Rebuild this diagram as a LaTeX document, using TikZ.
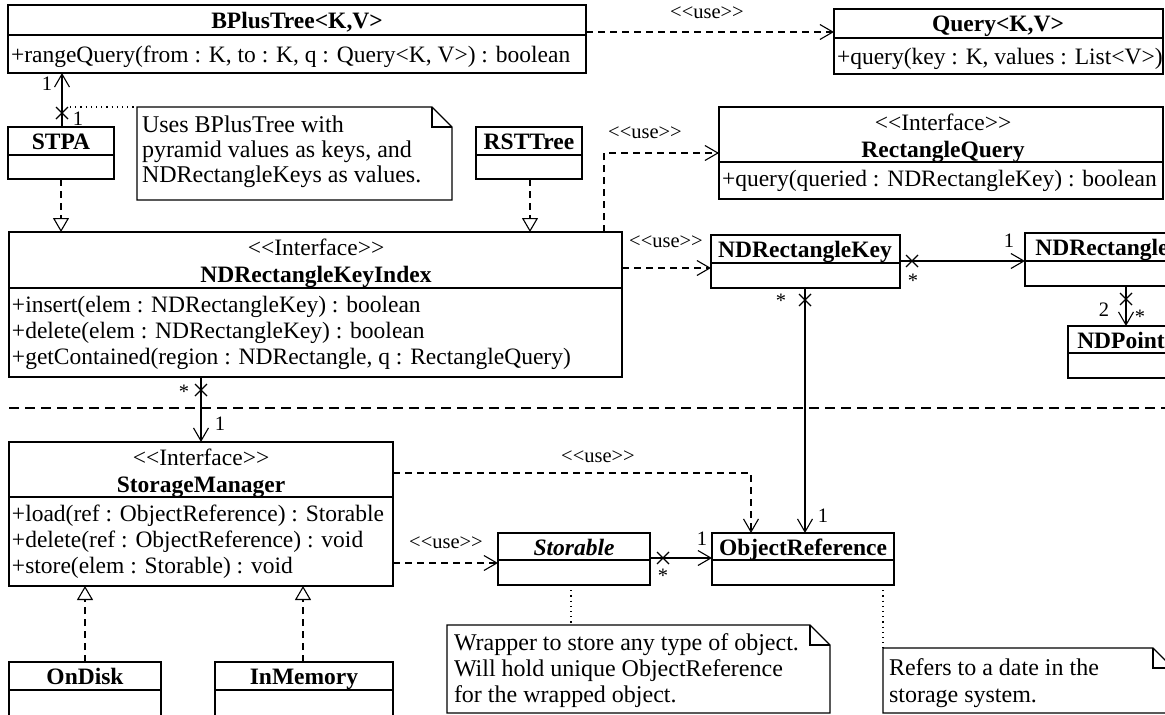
\documentclass[tikz,border=0pt]{standalone}
\usepackage{fontspec}
\setmainfont{Liberation Serif}[Ligatures=TeXOff]
\usetikzlibrary{arrows.meta}

% class box: name, left, top, right, separator, bottom
\newcommand\umlbox[6]{%
  \node[classbox,minimum width={(#4-#2)*1pt},minimum height={(#6-#3)*1pt}] (#1) at (#2,#3) {};
  \draw (#2,#5) -- (#4,#5);}
% note with a folded corner: name, left, top, right, bottom
\newcommand\umlnote[5]{%
  \node[anchor=north west,minimum width={(#4-#2)*1pt},minimum height={(#5-#3)*1pt}] (#1) at (#2,#3) {};
  \draw (#2,#3) -- ({#4-20},#3) -- (#4,{#3+20}) -- (#4,#5) -- (#2,#5) -- cycle;
  \draw ({#4-20},#3) -- ({#4-20},{#3+20}) -- (#4,{#3+20});}
% cross on a non-navigable association end
\newcommand\assocx[1]{\draw (#1) +(-6,-6) -- +(6,6) +(-6,6) -- +(6,-6);}

\begin{document}
\begin{tikzpicture}[x=1pt,y=-1pt,line width=1.1pt,
  every node/.style={inner sep=0pt,outer sep=0pt,font=\fontsize{23.5}{26}\selectfont},
  classbox/.style={draw,anchor=north west},
  title/.style={anchor=base,font=\fontsize{23.5}{26}\selectfont\bfseries},
  member/.style={anchor=base west},
  notetext/.style={anchor=base west,font=\fontsize{24}{26}\selectfont},
  lbl/.style={font=\fontsize{20.5}{22}\selectfont},
  mult/.style={font=\fontsize{20.5}{22}\selectfont},
  star/.style={anchor=north,font=\fontsize{20.5}{22}\selectfont},
  dep/.style={dash pattern=on 7pt off 5pt,-{Straight Barb[length=13pt,width=15pt]}},
  nav/.style={-{Straight Barb[length=13pt,width=15pt]}},
  realize/.style={dash pattern=on 7pt off 5pt,-{Triangle[open,length=14pt,width=16pt]}},
  noteline/.style={dash pattern=on 1.2pt off 4pt},
  divider/.style={dash pattern=on 10pt off 6pt},
]
\useasboundingbox (0,0) rectangle (1165,715);
\fill[white] (0,0) rectangle (1165,715);
\clip (0,0) rectangle (1165,715);

% ---------- classes ----------
\umlbox{bpt}{8}{5}{586}{35}{73}
\node[title] at (297,28) {BPlusTree<K,V>};
\node[member] at (11,62) {+rangeQuery(from : K, to : K, q : Query<K, V>) : boolean};

\umlbox{query}{834}{9}{1163}{38}{74}
\node[title] at (998,31) {Query<K,V>};
\node[member] at (837,64) {+query(key : K, values : List<V>)};

\umlbox{stpa}{8}{127}{114}{155}{179}
\node[title] at (61,149) {STPA};

\umlbox{rst}{476}{127}{582}{155}{179}
\node[title] at (529,149) {RSTTree};

\umlbox{rq}{719}{107}{1163}{162}{199}
\node[anchor=base] at (943,130) {<<Interface>>};
\node[title] at (943,157) {RectangleQuery};
\node[member] at (722,186) {+query(queried : NDRectangleKey) : boolean};

\umlbox{idx}{9}{232}{622}{288}{377}
\node[anchor=base] at (316,255) {<<Interface>>};
\node[title] at (316,282) {NDRectangleKeyIndex};
\node[member] at (12,312) {+insert(elem : NDRectangleKey) : boolean};
\node[member] at (12,338) {+delete(elem : NDRectangleKey) : boolean};
\node[member] at (12,364) {+getContained(region : NDRectangle, q : RectangleQuery)};

\umlbox{ndk}{711}{235}{900}{263}{288}
\node[title] at (805,257) {NDRectangleKey};

\umlbox{ndr}{1025}{233}{1179}{261}{286}
\node[title] at (1102,255) {NDRectangle};

\umlbox{ndp}{1068}{326}{1174}{353}{378}
\node[title] at (1121,348) {NDPoint};

\umlbox{sm}{9}{442}{393}{497}{586}
\node[anchor=base] at (201,465) {<<Interface>>};
\node[title] at (201,492) {StorageManager};
\node[member] at (12,521) {+load(ref : ObjectReference) : Storable};
\node[member] at (12,547) {+delete(ref : ObjectReference) : void};
\node[member] at (12,573) {+store(elem : Storable) : void};

\umlbox{storable}{498}{533}{650}{560}{585}
\node[title,font=\fontsize{23.5}{26}\selectfont\bfseries\itshape] at (574,555) {Storable};

\umlbox{objref}{712}{533}{894}{560}{585}
\node[title] at (803,555) {ObjectReference};

\umlbox{ondisk}{9}{662}{161}{690}{750}
\node[title] at (85,684) {OnDisk};

\umlbox{inmem}{215}{662}{393}{690}{750}
\node[title] at (304,684) {InMemory};

% ---------- notes ----------
\umlnote{note1}{137}{107}{452}{200}
\node[notetext] at (142,132) {Uses BPlusTree with};
\node[notetext] at (142,157) {pyramid values as keys, and};
\node[notetext] at (142,182) {NDRectangleKeys as values.};

\umlnote{note2}{447}{625}{830}{713}
\node[notetext] at (454,650) {Wrapper to store any type of object.};
\node[notetext] at (454,676) {Will hold unique ObjectReference};
\node[notetext] at (454,702) {for the wrapped object.};

\umlnote{note3}{883}{648}{1173}{713}
\node[notetext] at (889,675) {Refers to a date in the};
\node[notetext] at (889,702) {storage system.};

% ---------- package divider ----------
\draw[divider] (idx.west |- 0,408) -- (1165,408);

% ---------- relations ----------
% BPlusTree uses Query
\draw[dep] (bpt.east |- 0,32) -- (query.west |- 0,32);
\node[lbl] at (707,13) {<<use>>};

% STPA holds a BPlusTree
\draw[nav] (stpa.north -| 62,0) -- (bpt.south -| 62,0);
\assocx{62,113}
\node[mult] at (47,84) {1};
\node[mult] at (78,119) {1};
\coordinate (stpalink) at (70,107);
\draw[noteline] (stpalink) -- (note1.north west);

% realizations of NDRectangleKeyIndex
\draw[realize] (stpa.south -| 61,0) -- (idx.north -| 61,0);
\draw[realize] (rst.south -| 530,0) -- (idx.north -| 530,0);

% NDRectangleKeyIndex uses RectangleQuery
\draw[dep] (idx.north -| 604,0) |- (rq.west |- 0,153);
\node[lbl] at (645,133) {<<use>>};

% NDRectangleKeyIndex uses NDRectangleKey
\draw[dep] (idx.east |- 0,268) -- (ndk.west |- 0,268);
\node[lbl] at (666,242) {<<use>>};

% NDRectangleKey -> NDRectangle
\draw[nav] (ndk.east |- 0,261) -- (ndr.west |- 0,261);
\assocx{912,261}
\node[star] at (913,274) {*};
\node[mult] at (1009,241) {1};

% NDRectangle -> NDPoint
\draw[nav] (ndr.south -| 1126,0) -- (ndp.north -| 1126,0);
\assocx{1126,299}
\node[mult] at (1104,310) {2};
\node[star] at (1140,310) {*};

% NDRectangleKeyIndex -> StorageManager
\draw[nav] (idx.south -| 201,0) -- (sm.north -| 201,0);
\assocx{201,390}
\node[star] at (184,385) {*};
\node[mult] at (220,424) {1};

% NDRectangleKey -> ObjectReference
\draw[nav] (ndk.south -| 805,0) -- (objref.north -| 805,0);
\assocx{805,300}
\node[star] at (781,294) {*};
\node[mult] at (823,516) {1};

% StorageManager uses ObjectReference
\draw[dep] (sm.east |- 0,473) -| (objref.north -| 751,0);
\node[lbl] at (598,457) {<<use>>};

% StorageManager uses Storable
\draw[dep] (sm.east |- 0,563) -- (storable.west |- 0,563);
\node[lbl] at (446,543) {<<use>>};

% Storable -> ObjectReference
\draw[nav] (storable.east |- 0,558) -- (objref.west |- 0,558);
\assocx{663,558}
\node[star] at (663,569) {*};
\node[mult] at (702,539) {1};

% implementations of StorageManager
\draw[realize] (ondisk.north -| 85,0) -- (sm.south -| 85,0);
\draw[realize] (inmem.north -| 303,0) -- (sm.south -| 303,0);

% note anchors
\draw[noteline] (storable.south -| 571,0) -- (note2.north -| 571,0);
\draw[noteline] (objref.south -| 883,0) -- (note3.north west);
\end{tikzpicture}
\end{document}
